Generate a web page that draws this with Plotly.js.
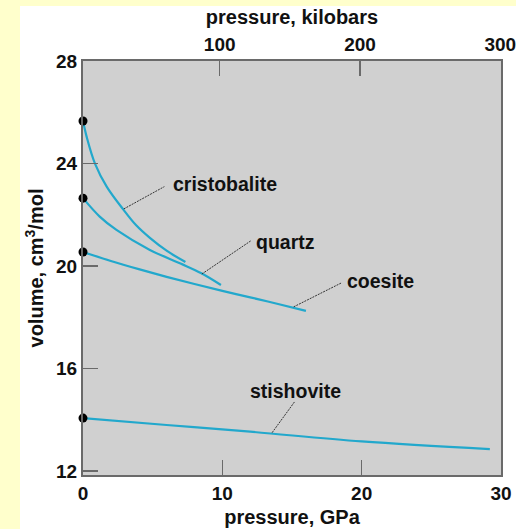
<!DOCTYPE html>
<html>
<head>
<meta charset="utf-8">
<script src="https://cdn.plot.ly/plotly-3.0.1.min.js"></script>
<style>
  html, body { margin: 0; padding: 0; width: 516px; height: 529px; background: #FFFFCC; overflow: hidden; }
  #chart { position: absolute; left: 20px; top: 6px; width: 496px; height: 523px; }
</style>
</head>
<body>
<div id="chart"></div>
<script>
// ---- data (pressure in GPa, volume in cm3/mol) ----
const cristobaliteP = [0, 0.26, 0.86, 1.7, 2.9, 3.8, 4.8, 6.0, 7.35];
const cristobaliteV = [25.66, 25.05, 24.0, 23.1, 22.2, 21.6, 21.1, 20.6, 20.16];
const quartzP = [0, 1.2, 2.4, 4.8, 7.0, 8.5, 9.9];
const quartzV = [22.65, 21.93, 21.41, 20.63, 20.1, 19.72, 19.26];
const coesiteP = [0, 2, 4, 6, 8, 10, 12, 14, 16];
const coesiteV = [20.55, 20.2, 19.88, 19.58, 19.3, 19.03, 18.78, 18.52, 18.25];
const stishoviteP = [0, 6, 12, 20, 29.2];
const stishoviteV = [14.07, 13.8, 13.54, 13.16, 12.86];
const phaseNames = ["cristobalite", "quartz", "coesite", "stishovite"];
const gpaTicks = [0, 10, 20, 30];
const kbarTicks = [100, 200, 300];
const volumeTicks = [12, 16, 20, 24, 28];

const lineColor = "#22A8CC";
const axisColor = "#6a6a6a";
const fontFam = "Liberation Sans, Arial, sans-serif";
const series = [
  [cristobaliteP, cristobaliteV],
  [quartzP, quartzV],
  [coesiteP, coesiteV],
  [stishoviteP, stishoviteV]
];

const traces = series.map((s, i) => ({
  x: s[0], y: s[1], type: "scatter", mode: "lines", name: phaseNames[i],
  line: { color: lineColor, width: 2.2, shape: "spline", smoothing: 1 },
  xaxis: "x", yaxis: "y", hoverinfo: "skip"
}));
traces.push({
  x: series.map(s => s[0][0]), y: series.map(s => s[1][0]),
  type: "scatter", mode: "markers", marker: { color: "#000", size: 9 },
  cliponaxis: false, xaxis: "x", yaxis: "y", hoverinfo: "skip"
});
// invisible trace to activate top axis
traces.push({ x: [100], y: [20], xaxis: "x2", yaxis: "y", mode: "markers",
  marker: { opacity: 0 }, hoverinfo: "skip" });

// leader lines: [x0,y0,x1,y1] in data units
const leaders = [
  [2.93, 22.23, 5.84, 23.10],
  [8.53, 19.69, 12.03, 20.98],
  [15.12, 18.41, 18.57, 19.35],
  [13.57, 13.50, 15.19, 14.71]
];
const labelPos = [
  { x: 6.3, y: 23.2, xanchor: "left" },
  { x: 12.3, y: 20.95, xanchor: "left" },
  { x: 18.8, y: 19.42, xanchor: "left" },
  { x: 15.26, y: 15.14, xanchor: "center" }
];

const shapes = leaders.map(l => ({
  type: "line", xref: "x", yref: "y", x0: l[0], y0: l[1], x1: l[2], y1: l[3],
  line: { color: "#333", width: 1, dash: "2px,1px" }
}));
const annotations = phaseNames.map((n, i) => ({
  text: n, x: labelPos[i].x, y: labelPos[i].y, xref: "x", yref: "y",
  xanchor: labelPos[i].xanchor, yanchor: "middle", showarrow: false,
  font: { family: fontFam, size: 19.5, color: "#111", weight: "bold" }
}));

const tickFont = { family: fontFam, size: 19, color: "#111", weight: "bold" };
const titleFont = { family: fontFam, size: 20, color: "#111", weight: "bold" };

const layout = {
  width: 496, height: 523,
  margin: { l: 63, r: 15, t: 55, b: 54 },
  paper_bgcolor: "#FFFFFF", plot_bgcolor: "#D0D0D0",
  showlegend: false,
  xaxis: {
    range: [0, 30], tickvals: gpaTicks, ticktext: gpaTicks.map(String),
    ticks: "inside", ticklen: 15, tickwidth: 1.5, tickcolor: axisColor,
    showline: true, linecolor: axisColor, linewidth: 2, mirror: false,
    showgrid: false, zeroline: false, tickfont: tickFont,
    ticklabeloverflow: "allow",
    title: { text: "pressure, GPa", font: titleFont, standoff: 7 },
    automargin: false
  },
  xaxis2: {
    overlaying: "x", side: "top", anchor: "y",
    range: [2.6, 300.5], tickvals: kbarTicks, ticktext: kbarTicks.map(String),
    tickmode: "array",
    ticks: "inside", ticklen: 15, tickwidth: 1.5, tickcolor: axisColor,
    showline: true, linecolor: axisColor, linewidth: 2,
    showgrid: false, zeroline: false, tickfont: tickFont,
    ticklabeloverflow: "allow",
    title: { text: "pressure, kilobars", font: titleFont, standoff: 7 },
    automargin: false
  },
  yaxis: {
    range: [11.85, 28], tickvals: volumeTicks, ticktext: volumeTicks.map(String),
    ticks: "inside", ticklen: 15, tickwidth: 1.5, tickcolor: axisColor,
    showline: true, linecolor: axisColor, linewidth: 2, mirror: true,
    showgrid: false, zeroline: false, tickfont: tickFont,
    title: { text: "volume, cm<sup>3</sup>/mol", font: titleFont, standoff: 7 },
    automargin: false
  },
  shapes: shapes,
  annotations: annotations
};

Plotly.newPlot("chart", traces, layout, { displayModeBar: false, staticPlot: true });
</script>
</body>
</html>
